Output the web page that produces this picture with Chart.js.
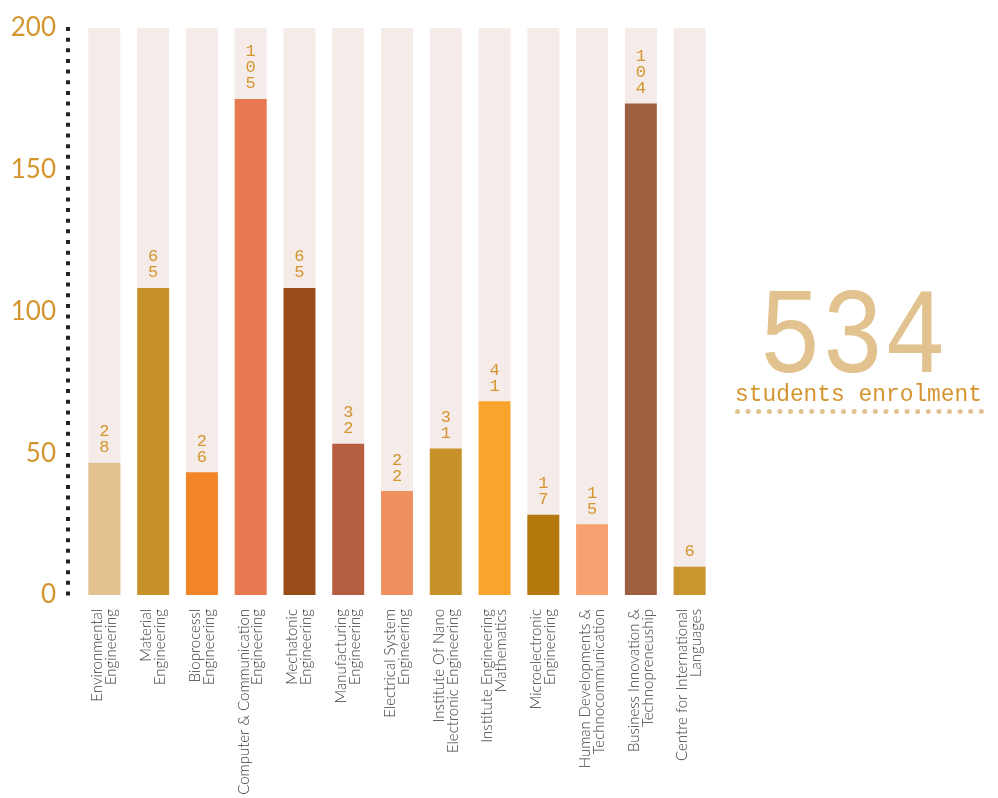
<!DOCTYPE html>
<html>
<head>
<meta charset="utf-8">
<script src="https://cdn.jsdelivr.net/npm/chart.js@4.4.0/dist/chart.umd.min.js"></script>
<style>
  html, body { margin: 0; padding: 0; background: #ffffff; }
  #wrap { width: 998px; height: 798px; }
</style>
</head>
<body>
<div id="wrap"><canvas id="enrol" width="998" height="798"></canvas></div>
<script>
// Student enrolment per faculty — vertical bars on a pale track, big total on the right.

const departments = [
  ['Environmental', 'Engineering'],
  ['Material', 'Engineering'],
  ['Bioprocessl', 'Engineering'],
  ['Computer & Communication', 'Engineering'],
  ['Mechatonic', 'Engineering'],
  ['Manufacturing', 'Engineering'],
  ['Electrical System', 'Engineering'],
  ['Institute Of Nano', 'Electronic Engineering'],
  ['Institute Engineering', 'Mathematics'],
  ['Microelectronic', 'Engineering'],
  ['Human Developments &', 'Technocommunication'],
  ['Business Innovation &', 'Technopreneuship'],
  ['Centre for International', 'Languages'],
];
const students = [28, 65, 26, 105, 65, 32, 22, 31, 41, 17, 15, 104, 6];
const barColors = [
  '#e2c28e', '#c8922a', '#f28527', '#e77850', '#984d18', '#b55e40', '#ef9060',
  '#c8922a', '#f9a42c', '#b5780c', '#f7a070', '#9c6040', '#c8952e',
];
// axis runs 0..120 in data units, printed as 0..200
const axisMax = 120;
const tickValues = [0, 30, 60, 90, 120];
const tickLabels = ['0', '50', '100', '150', '200'];
const totalLabel = '534';
const totalCaption = 'students enrolment';

const GOLD = '#d4952e';
const TAN = '#e2c28e';
const TRACK = '#f5ebe8';

const trackValues = departments.map(() => axisMax);

/** dotted y axis, stacked value digits, big total */
const decorations = {
  id: 'decorations',
  beforeDatasetsDraw(chart) {
    const { ctx } = chart;
    const y = chart.scales.y;
    ctx.save();
    ctx.strokeStyle = '#222222';
    ctx.lineWidth = 4;
    ctx.setLineDash([4, 6.65]);
    ctx.beginPath();
    const ax = y.right - 12;
    ctx.moveTo(ax, y.getPixelForValue(axisMax) - 1);
    ctx.lineTo(ax, y.getPixelForValue(0) + 3);
    ctx.stroke();
    ctx.restore();
  },
  afterDatasetsDraw(chart) {
    const { ctx } = chart;
    const meta = chart.getDatasetMeta(1);
    ctx.save();
    ctx.fillStyle = GOLD;
    ctx.font = '17px "Liberation Mono", monospace';
    ctx.textAlign = 'center';
    ctx.textBaseline = 'alphabetic';
    meta.data.forEach((bar, i) => {
      const digits = String(students[i]).split('');
      const n = digits.length;
      digits.forEach((d, k) => {
        ctx.fillText(d, bar.x, bar.y - 10.5 - (n - 1 - k) * 16);
      });
    });

    // big total, fitted into its box
    const boxL = 765, boxR = 941, boxT = 290, boxB = 372;
    ctx.font = '100px "Liberation Mono", monospace';
    ctx.textAlign = 'left';
    const m = ctx.measureText(totalLabel);
    const w = m.actualBoundingBoxLeft + m.actualBoundingBoxRight;
    const h = m.actualBoundingBoxAscent;
    ctx.save();
    ctx.translate(boxL, boxB);
    ctx.scale((boxR - boxL) / w, (boxB - boxT) / h);
    ctx.fillStyle = TAN;
    ctx.fillText(totalLabel, m.actualBoundingBoxLeft, 0);
    ctx.restore();

    ctx.font = '23px "Liberation Mono", monospace';
    ctx.fillStyle = GOLD;
    const cm = ctx.measureText(totalCaption);
    ctx.save();
    ctx.translate(735, 401);
    ctx.scale(247 / cm.width, 1);
    ctx.fillText(totalCaption, 0, 0);
    ctx.restore();

    ctx.fillStyle = TAN;
    for (let k = 0; k < 24; k++) {
      ctx.beginPath();
      ctx.arc(737.5 + k * 10.6, 411.5, 2.5, 0, Math.PI * 2);
      ctx.fill();
    }
    ctx.restore();
  },
};

new Chart(document.getElementById('enrol'), {
  type: 'bar',
  data: {
    labels: departments,
    datasets: [
      {
        data: trackValues,
        backgroundColor: TRACK,
        grouped: false,
        order: 2,
        categoryPercentage: 1,
        barPercentage: 0.655,
      },
      {
        data: students,
        backgroundColor: barColors,
        grouped: false,
        order: 1,
        categoryPercentage: 1,
        barPercentage: 0.655,
      },
    ],
  },
  options: {
    responsive: false,
    animation: false,
    layout: { padding: { top: 28, right: 284, left: 0, bottom: 0 } },
    plugins: { legend: { display: false }, tooltip: { enabled: false } },
    scales: {
      x: {
        grid: { display: false },
        border: { display: false },
        ticks: {
          autoSkip: false,
          maxRotation: 90,
          minRotation: 90,
          padding: 6,
          labelOffset: -7,
          color: '#383838',
          font: { family: 'Lato, "DejaVu Sans", sans-serif', size: 15, weight: '300', lineHeight: 0.93 },
        },
        afterFit(scale) {
          scale.height = 203;
          scale.paddingLeft = 0;
          scale.paddingRight = 0;
        },
      },
      y: {
        min: 0,
        max: axisMax,
        grid: { display: false, drawTicks: false },
        border: { display: false },
        afterBuildTicks(scale) { scale.ticks = tickValues.map(v => ({ value: v })); },
        ticks: {
          padding: 24,
          color: GOLD,
          font: { family: 'Lato, "DejaVu Sans", sans-serif', size: 26 },
          callback: v => tickLabels[tickValues.indexOf(v)],
        },
        afterFit(scale) {
          scale.width = 80;
          scale.paddingTop = 0;
          scale.paddingBottom = 0;
        },
      },
    },
  },
  plugins: [decorations],
});
</script>
</body>
</html>
